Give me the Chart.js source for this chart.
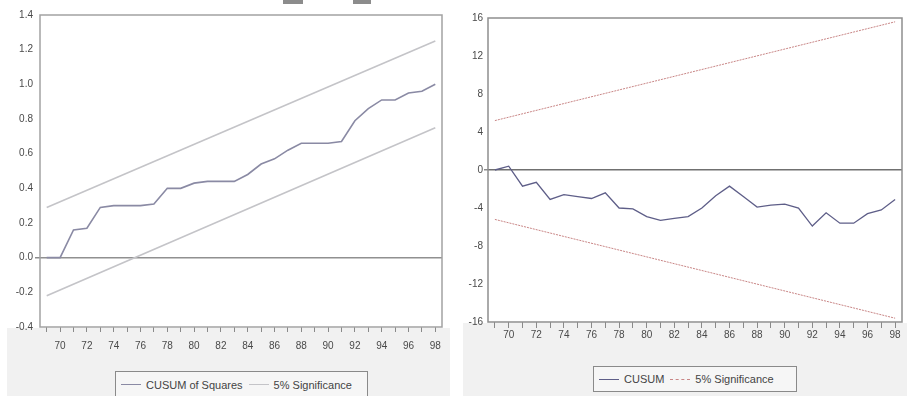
<!DOCTYPE html>
<html>
<head>
<meta charset="utf-8">
<script src="https://cdn.jsdelivr.net/npm/chart.js@4.4.1/dist/chart.umd.min.js"></script>
<style>
  html, body { margin: 0; padding: 0; background: #fff; }
  #wrap { position: relative; width: 907px; height: 396px; overflow: hidden; font-family: "Liberation Sans", Arial, sans-serif; }
  canvas { position: absolute; top: 0; }
  #cLeft { left: 0; }
  #cRight { left: 450px; }
  .legend { position: absolute; border: 1px solid #8a8a8a; background: #f6f6f6; box-sizing: border-box;
            display: flex; align-items: center; font-size: 11px; color: #444; white-space: nowrap; }
  .legend .smp { display: inline-block; width: 20px; height: 0; margin-right: 5px; }
  .legend .txt { margin-right: 6px; }
  .blob { position: absolute; top: 0; height: 4px; background: #8c8c8c; }
</style>
</head>
<body>
<div id="wrap">
  <canvas id="cLeft" width="450" height="396"></canvas>
  <canvas id="cRight" width="457" height="396"></canvas>
  <div class="blob" style="left:283px;width:20px"></div>
  <div class="blob" style="left:353px;width:18px"></div>
  <div class="legend" id="legLeft" style="left:115px;top:371px;width:253px;height:27px;padding-left:5px"></div>
  <div class="legend" id="legRight" style="left:593px;top:366px;width:204px;height:26px;padding-left:5px"></div>
</div>
<script>
// years of the recursive estimates (annual, two-digit labels on the axis)
const years = [1969, 1970, 1971, 1972, 1973, 1974, 1975, 1976, 1977, 1978,
               1979, 1980, 1981, 1982, 1983, 1984, 1985, 1986, 1987, 1988,
               1989, 1990, 1991, 1992, 1993, 1994, 1995, 1996, 1997, 1998];

// CUSUM of Squares and its 5% band (band read at first and last year)
const cusumSq = [0.00, 0.00, 0.16, 0.17, 0.29, 0.30, 0.30, 0.30, 0.31, 0.40,
                 0.40, 0.43, 0.44, 0.44, 0.44, 0.48, 0.54, 0.57, 0.62, 0.66,
                 0.66, 0.66, 0.67, 0.79, 0.86, 0.91, 0.91, 0.95, 0.96, 1.00];
const cusumSqUpper = [0.29, 1.25];
const cusumSqLower = [-0.22, 0.75];

// CUSUM and its 5% band
const cusum = [0.0, 0.4, -1.7, -1.3, -3.1, -2.6, -2.8, -3.0, -2.4, -4.0,
               -4.1, -4.9, -5.3, -5.1, -4.9, -4.0, -2.7, -1.7, -2.8, -3.9,
               -3.7, -3.6, -4.0, -5.9, -4.5, -5.6, -5.6, -4.6, -4.2, -3.1];
const cusumUpper = [5.2, 15.6];
const cusumLower = [-5.2, -15.6];

const leftTicks = [-0.4, -0.2, 0.0, 0.2, 0.4, 0.6, 0.8, 1.0, 1.2, 1.4];
const rightTicks = [-16, -12, -8, -4, 0, 4, 8, 12, 16];

const COLORS = {
  sq: '#8a8aa4',
  sqBand: '#c4c4c8',
  cusum: '#5e5e88',
  band: '#c98686',
  zero: '#8a8a8a',
  frame: '#a2a2a2',
  text: '#4a4a4a'
};

const FONT = { family: '"Liberation Sans", Arial, sans-serif', size: 10 };

function pairs(xs, ys) {
  return xs.map((x, i) => ({ x: x, y: ys[i] }));
}
const ends = [years[0], years[years.length - 1]];

// white page, light grey strip under the plot, frame round the plot area
function panelPlugin(greyLeft, frameColor) {
  return {
    id: 'panel',
    beforeDraw(chart) {
      const { ctx, chartArea } = chart;
      ctx.save();
      ctx.fillStyle = '#ffffff';
      ctx.fillRect(0, 0, chart.width, chart.height);
      ctx.fillStyle = '#f1f1f1';
      ctx.fillRect(greyLeft, chartArea.bottom + 1, chart.width - greyLeft, chart.height);
      ctx.restore();
    },
    afterDraw(chart) {
      const { ctx, chartArea } = chart;
      ctx.save();
      ctx.strokeStyle = frameColor;
      ctx.lineWidth = 1.5;
      ctx.strokeRect(chartArea.left, chartArea.top, chartArea.right - chartArea.left, chartArea.bottom - chartArea.top);
      ctx.restore();
    }
  };
}

function makeOptions(cfg) {
  return {
    responsive: false,
    animation: false,
    layout: { padding: cfg.padding },
    plugins: { legend: { display: false }, tooltip: { enabled: false } },
    elements: { point: { radius: 0 }, line: { tension: 0 } },
    scales: {
      x: {
        type: 'linear',
        min: years[0] - 0.5,
        max: years[years.length - 1] + 0.5,
        afterFit: (s) => { s.height = cfg.xHeight; },
        afterBuildTicks: (s) => { s.ticks = years.map(v => ({ value: v })); },
        border: { display: false },
        grid: { drawOnChartArea: false, drawTicks: true, tickLength: cfg.xTick, tickColor: '#8a8a8a' },
        ticks: {
          autoSkip: false, maxRotation: 0, padding: cfg.xPad, color: COLORS.text, font: FONT,
          callback: (v) => (v % 2 === 0 ? String(v).slice(2) : '')
        }
      },
      y: {
        min: cfg.ticks[0],
        max: cfg.ticks[cfg.ticks.length - 1],
        afterFit: (s) => { s.width = cfg.yWidth; },
        afterBuildTicks: (s) => { s.ticks = cfg.ticks.map(v => ({ value: v })); },
        border: { display: false },
        grid: {
          drawTicks: true, tickLength: cfg.yTick, tickColor: '#8a8a8a',
          color: (c) => (Math.abs(c.tick.value) < 1e-9 ? cfg.zeroColor : 'rgba(0,0,0,0)'),
          lineWidth: (c) => (Math.abs(c.tick.value) < 1e-9 ? cfg.zeroWidth : 0)
        },
        ticks: { padding: cfg.yPad, color: COLORS.text, font: FONT, callback: cfg.fmt }
      }
    }
  };
}

new Chart(document.getElementById('cLeft'), {
  type: 'line',
  data: {
    datasets: [
      { label: 'CUSUM of Squares', data: pairs(years, cusumSq), borderColor: COLORS.sq, borderWidth: 1.6 },
      { label: '5% Significance', data: pairs(ends, cusumSqUpper), borderColor: COLORS.sqBand, borderWidth: 1.6 },
      { label: '5% Significance (lower)', data: pairs(ends, cusumSqLower), borderColor: COLORS.sqBand, borderWidth: 1.6 }
    ]
  },
  options: makeOptions({
    padding: { left: 0, top: 15, right: 8, bottom: 0 },
    xHeight: 69, yWidth: 40, xTick: 5, yTick: 5, xPad: 8, yPad: 2,
    ticks: leftTicks, zeroColor: '#909090', zeroWidth: 1.5,
    fmt: (v) => v.toFixed(1)
  }),
  plugins: [panelPlugin(7, COLORS.frame)]
});

new Chart(document.getElementById('cRight'), {
  type: 'line',
  data: {
    datasets: [
      { label: 'CUSUM', data: pairs(years, cusum), borderColor: COLORS.cusum, borderWidth: 1.3 },
      { label: '5% Significance', data: pairs(ends, cusumUpper), borderColor: COLORS.band, borderWidth: 1, borderDash: [2, 1] },
      { label: '5% Significance (lower)', data: pairs(ends, cusumLower), borderColor: COLORS.band, borderWidth: 1, borderDash: [2, 1] }
    ]
  },
  options: makeOptions({
    padding: { left: 0, top: 18, right: 5, bottom: 0 },
    xHeight: 74, yWidth: 38, xTick: 6, yTick: 4, xPad: 1, yPad: 1,
    ticks: rightTicks, zeroColor: '#707070', zeroWidth: 1.5,
    fmt: (v) => String(v)
  }),
  plugins: [panelPlugin(13, '#8e8e8e')]
});

// legends drawn as boxed rows under each panel
function fillLegend(id, items) {
  const box = document.getElementById(id);
  items.forEach((it) => {
    const smp = document.createElement('span');
    smp.className = 'smp';
    smp.style.borderTop = it.dash ? '1px dashed ' + it.color : '1.5px solid ' + it.color;
    const txt = document.createElement('span');
    txt.className = 'txt';
    txt.textContent = it.label;
    box.appendChild(smp);
    box.appendChild(txt);
  });
}
fillLegend('legLeft', [
  { label: 'CUSUM of Squares', color: COLORS.sq },
  { label: '5% Significance', color: COLORS.sqBand }
]);
fillLegend('legRight', [
  { label: 'CUSUM', color: COLORS.cusum },
  { label: '5% Significance', color: COLORS.band, dash: true }
]);
</script>
</body>
</html>
